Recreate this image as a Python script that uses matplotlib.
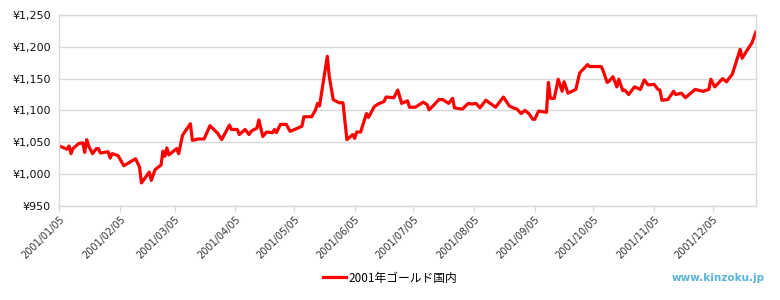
import pandas as pd
import numpy as np
import matplotlib.pyplot as plt
import matplotlib.dates as mdates
from matplotlib.ticker import FuncFormatter

plt.rcParams['font.family'] = ['DejaVu Sans']

# 2001 domestic gold price (yen / g)
dates = [
    "2001-01-05", "2001-01-09", "2001-01-10", "2001-01-11", "2001-01-12", "2001-01-15",
    "2001-01-17", "2001-01-18", "2001-01-19", "2001-01-20", "2001-01-22", "2001-01-24",
    "2001-01-25", "2001-01-26", "2001-01-30", "2001-01-31", "2001-02-01", "2001-02-04",
    "2001-02-07", "2001-02-13", "2001-02-15", "2001-02-16", "2001-02-20", "2001-02-21",
    "2001-02-23", "2001-02-26", "2001-02-27", "2001-02-28", "2001-03-01", "2001-03-02",
    "2001-03-06", "2001-03-07", "2001-03-09", "2001-03-13", "2001-03-14", "2001-03-17",
    "2001-03-20", "2001-03-23", "2001-03-27", "2001-03-29", "2001-04-02", "2001-04-03",
    "2001-04-06", "2001-04-07", "2001-04-10", "2001-04-12", "2001-04-13", "2001-04-14",
    "2001-04-16", "2001-04-17", "2001-04-19", "2001-04-21", "2001-04-24", "2001-04-25",
    "2001-04-26", "2001-04-28", "2001-05-01", "2001-05-03", "2001-05-09", "2001-05-10",
    "2001-05-14", "2001-05-16", "2001-05-17", "2001-05-18", "2001-05-22", "2001-05-23",
    "2001-05-25", "2001-05-28", "2001-05-30", "2001-06-01", "2001-06-04", "2001-06-05",
    "2001-06-06", "2001-06-08", "2001-06-11", "2001-06-12", "2001-06-15", "2001-06-17",
    "2001-06-20", "2001-06-21", "2001-06-25", "2001-06-27", "2001-06-29", "2001-07-02",
    "2001-07-03", "2001-07-06", "2001-07-10", "2001-07-12", "2001-07-13", "2001-07-15",
    "2001-07-18", "2001-07-20", "2001-07-23", "2001-07-25", "2001-07-26", "2001-07-30",
    "2001-08-02", "2001-08-04", "2001-08-06", "2001-08-08", "2001-08-11", "2001-08-16",
    "2001-08-20", "2001-08-23", "2001-08-25", "2001-08-27", "2001-08-29", "2001-08-31",
    "2001-09-02", "2001-09-04", "2001-09-05", "2001-09-07", "2001-09-11", "2001-09-12",
    "2001-09-13", "2001-09-15", "2001-09-17", "2001-09-19", "2001-09-20", "2001-09-22",
    "2001-09-26", "2001-09-28", "2001-10-02", "2001-10-03", "2001-10-09", "2001-10-10",
    "2001-10-12", "2001-10-13", "2001-10-15", "2001-10-17", "2001-10-18", "2001-10-20",
    "2001-10-21", "2001-10-23", "2001-10-26", "2001-10-29", "2001-10-31", "2001-11-02",
    "2001-11-05", "2001-11-07", "2001-11-08", "2001-11-09", "2001-11-12", "2001-11-15",
    "2001-11-16", "2001-11-19", "2001-11-21", "2001-11-26", "2001-11-30", "2001-12-03",
    "2001-12-04", "2001-12-06", "2001-12-10", "2001-12-12", "2001-12-15", "2001-12-19",
    "2001-12-20", "2001-12-22", "2001-12-25", "2001-12-27",
]
prices = [
    1044, 1039, 1044, 1032, 1040, 1048,
    1049, 1034, 1054, 1044, 1032, 1040,
    1040, 1033, 1035, 1025, 1032, 1029,
    1013, 1024, 1011, 986, 1003, 990,
    1007, 1014, 1036, 1028, 1041, 1030,
    1040, 1032, 1061, 1079, 1053, 1055,
    1055, 1076, 1064, 1054, 1077, 1070,
    1070, 1062, 1070, 1062, 1067, 1069,
    1072, 1085, 1059, 1066, 1065, 1070,
    1065, 1078, 1078, 1067, 1075, 1090,
    1090, 1101, 1111, 1107, 1185, 1153,
    1117, 1112, 1112, 1054, 1062, 1056,
    1066, 1066, 1095, 1089, 1106, 1110,
    1114, 1121, 1120, 1132, 1111, 1115,
    1105, 1105, 1113, 1109, 1101, 1107,
    1117, 1117, 1111, 1119, 1104, 1102,
    1111, 1110, 1111, 1104, 1116, 1105,
    1121, 1107, 1104, 1102, 1095, 1100,
    1095, 1086, 1086, 1099, 1097, 1144,
    1119, 1119, 1149, 1130, 1145, 1127,
    1133, 1159, 1172, 1169, 1169, 1162,
    1144, 1146, 1153, 1137, 1149, 1131,
    1132, 1125, 1137, 1133, 1148, 1140,
    1141, 1133, 1132, 1116, 1117, 1130,
    1125, 1127, 1120, 1133, 1130, 1133,
    1149, 1137, 1150, 1145, 1157, 1196,
    1182, 1192, 1206, 1223,
]
tick_dates = ["2001-%02d-05" % m for m in range(1, 13)]
y_ticks = [950, 1000, 1050, 1100, 1150, 1200, 1250]
series_label = "2001年ゴールド国内"

x = pd.to_datetime(dates)

fig = plt.figure(figsize=(7.8, 3.0), dpi=100)
ax = fig.add_axes([0.076, 0.314, 0.893, 0.636])

line, = ax.plot(x, prices, color='#ff0000', linewidth=2.3, solid_joinstyle='round')

ax.set_xlim(x[0], x[-1])
ax.set_ylim(950, 1250)
ax.set_yticks(y_ticks)
ax.yaxis.set_major_formatter(FuncFormatter(lambda v, p: "¥{:,.0f}".format(v)))
ax.set_xticks(pd.to_datetime(tick_dates))
ax.xaxis.set_major_formatter(mdates.DateFormatter('%Y/%m/%d'))

ax.grid(axis='y', color='#d9d9d9', linewidth=1)
ax.set_axisbelow(True)
for s in ax.spines.values():
    s.set_color('#d9d9d9')
    s.set_linewidth(1)

ax.tick_params(axis='y', length=0, pad=6, labelsize=8, labelcolor='#111111')
ax.tick_params(axis='x', length=4, color='#d9d9d9', labelsize=7, labelcolor='#333333', pad=2)
for lbl in ax.get_xticklabels():
    lbl.set_rotation(45)
    lbl.set_ha('right')
    lbl.set_rotation_mode('anchor')

fig.legend([line], [series_label], loc='center', bbox_to_anchor=(0.5, 0.073),
           frameon=False, handlelength=2.0, handletextpad=0.2,
           prop={'family': ['Noto Sans CJK JP', 'DejaVu Sans'], 'size': 8.5})

fig.text(0.98, 0.073, "www.kinzoku.jp", ha='right', va='center',
         color='#5ab4dc', fontsize=7.5, fontweight='bold')

fig.savefig('out.png', dpi=100)
